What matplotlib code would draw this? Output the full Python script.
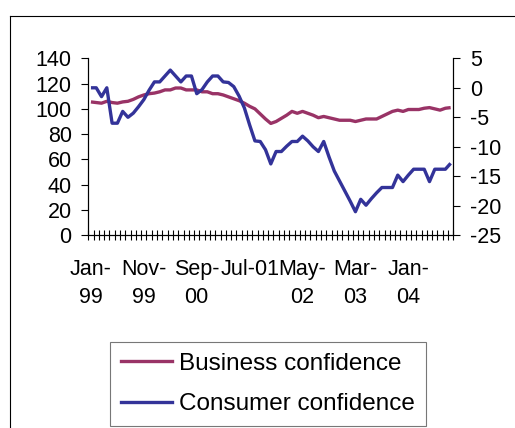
import numpy as np
import matplotlib.pyplot as plt
from matplotlib.lines import Line2D

# 月次データ Jan-99 .. Sep-04
business = [105.5, 105, 104.5, 106, 105, 104.5, 105.5, 106, 107.5, 109.5,
            111, 112, 112.5, 113.5, 115, 115, 116.5, 116.5, 115, 115,
            115, 113.5, 113.5, 112, 112, 111, 109.5, 108, 106.5, 104.5,
            102, 100, 96, 92, 88.5, 90, 92.5, 95, 98, 96.5,
            98, 96.5, 95, 93, 94, 93, 92, 91, 91, 91,
            90, 91, 92, 92, 92, 94, 96, 98, 99, 98,
            99.5, 99.5, 99.5, 100.5, 101, 100, 99, 100.5, 101]
consumer = [0, 0, -1.5, 0, -6, -6, -4, -5, -4.3, -3.2,
            -2, -0.4, 1, 1, 2, 3, 2, 1, 2, 2,
            -1, -0.3, 1, 2, 2, 1, 0.9, 0.2, -1.4, -3.4,
            -6.3, -9, -9.1, -10.5, -12.9, -10.8, -10.8, -9.9, -9.1, -9.1,
            -8.2, -9, -10, -10.8, -9.1, -11.7, -14.1, -15.8, -17.5, -19.2,
            -21, -18.9, -19.9, -18.8, -17.8, -16.9, -16.9, -16.9, -14.8, -15.9,
            -14.8, -13.8, -13.8, -13.8, -15.9, -13.8, -13.8, -13.8, -12.8]
tick_labels = ["Jan-\n99", "Nov-\n99", "Sep-\n00", "Jul-01", "May-\n02", "Mar-\n03", "Jan-\n04"]

plt.rcParams["font.family"] = ["Liberation Sans", "DejaVu Sans"]
plt.rcParams["axes.unicode_minus"] = False

W, H = 515, 428
fig = plt.figure(figsize=(W / 100, H / 100), dpi=100)
ax = fig.add_axes([88.3 / W, 1 - 235.3 / H, 365 / W, 177 / H])
ax2 = ax.twinx()

t = np.arange(len(business))
c_bus = "#993366"
c_con = "#333399"
ax.plot(t, business, color=c_bus, lw=2.4, solid_capstyle="butt")
ax2.plot(t, consumer, color=c_con, lw=2.4, solid_capstyle="butt")

ax.set_xlim(-0.5, len(t) - 0.5)
ax.set_ylim(0, 140)
ax.set_yticks(np.arange(0, 141, 20))
ax2.set_ylim(-25, 5)
ax2.set_yticks(np.arange(-25, 6, 5))

ax.set_xticks(np.arange(0, 61, 10))
ax.set_xticklabels(tick_labels, linespacing=1.45)
ax.set_xticks(np.arange(-0.5, len(t), 1), minor=True)
ax.tick_params(axis="x", which="major", length=0, pad=17, labelsize=15.5)
ax.tick_params(axis="x", which="minor", direction="inout", length=7, width=0.8)
ax.tick_params(axis="y", length=5, width=0.8, pad=7, labelsize=15.5)
ax2.tick_params(axis="y", length=5, width=0.8, pad=7, labelsize=15.5)

for a in (ax, ax2):
    a.spines["top"].set_visible(False)
    for s in a.spines.values():
        s.set_linewidth(0.8)

# 凡例
h1 = Line2D([], [], color=c_bus, lw=2.4)
h2 = Line2D([], [], color=c_con, lw=2.4)
leg = fig.legend([h1, h2], ["Business confidence", "Consumer confidence"],
                 loc="upper left", bbox_to_anchor=(110 / W, 1 - 342 / H),
                 fontsize=17.5, frameon=True, fancybox=False, handlelength=2.1,
                 handletextpad=0.3, labelspacing=0.75, borderpad=0.45,
                 borderaxespad=0)
leg.get_frame().set_edgecolor("#555555")
leg.get_frame().set_linewidth(0.8)

# 外枠
fig.add_artist(Line2D([9.5 / W, 1], [1 - 15.5 / H, 1 - 15.5 / H], color="black", lw=0.8))
fig.add_artist(Line2D([9.5 / W, 9.5 / W], [0, 1 - 15.5 / H], color="black", lw=0.8))

fig.savefig("out.png", dpi=100)
